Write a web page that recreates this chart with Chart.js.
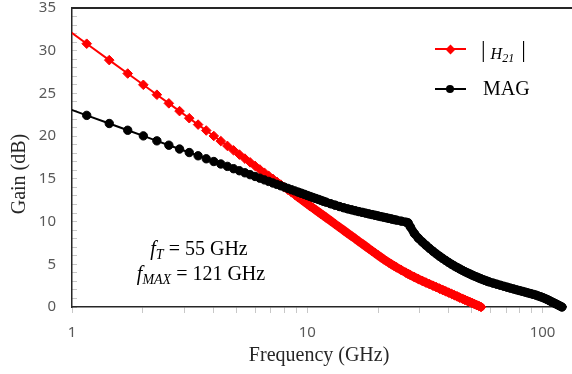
<!DOCTYPE html>
<html><head><meta charset="utf-8">
<script src="https://cdn.jsdelivr.net/npm/chart.js@4/dist/chart.umd.min.js"></script>
<style>
html,body{margin:0;padding:0;background:#fff;}
#wrap{position:relative;width:572px;height:374px;overflow:hidden;background:#fff;}
#c{position:absolute;left:0;top:0;width:572px;height:374px;}
.t{position:absolute;white-space:nowrap;font-family:"Liberation Serif","Times New Roman",serif;color:#000;}
.i{font-style:italic;}
#topline{position:absolute;left:71px;top:7px;width:501px;height:2px;background:#262626;}
</style></head><body>
<div id="wrap">
<canvas id="c" width="572" height="374"></canvas>
<div id="topline"></div>
<div class="t" id="ytitle" style="left:-42px;top:161.5px;width:120px;height:24px;line-height:24px;font-size:20px;text-align:center;color:#262626;transform:rotate(-90deg);">Gain (dB)</div>
<div style="position:absolute;left:435px;top:48px;width:31px;height:2px;background:#ff0000;"></div>
<div style="position:absolute;left:446.5px;top:45.5px;width:7px;height:7px;background:#ff0000;transform:rotate(45deg);"></div>
<div class="t" style="left:481px;top:37px;font-size:23px;line-height:26px;">|<span class="i" style="font-size:16px;position:relative;top:2px;margin-left:5px;">H</span><span class="i" style="font-size:12px;position:relative;top:4.5px;">21</span><span style="margin-left:7px;">|</span></div>
<div style="position:absolute;left:435px;top:88px;width:31px;height:2px;background:#000;"></div>
<div style="position:absolute;left:446px;top:85px;width:8px;height:8px;border-radius:50%;background:#000;"></div>
<div class="t" style="left:483px;top:76.25px;font-size:20px;line-height:24px;">MAG</div>
<div class="t" style="left:99px;top:236.25px;width:200px;text-align:center;font-size:20px;line-height:24px;"><span class="i">f</span><span class="i" style="font-size:14px;position:relative;top:4px;">T</span> = 55 GHz</div>
<div class="t" style="left:101px;top:261.25px;width:200px;text-align:center;font-size:20px;line-height:24px;"><span class="i">f</span><span class="i" style="font-size:14px;position:relative;top:3.5px;">MAX</span> = 121 GHz</div>
</div>
<script>
const freq = [0.87,1.155,1.44,1.725,2.01,2.295,2.58,2.865,3.15,3.435,3.72,4.005,4.29,4.575,4.86,5.145,5.43,5.715,6.0,6.285,6.57,6.855,7.14,7.425,7.71,7.995,8.28,8.565,8.85,9.135,9.42,9.705,9.99,10.275,10.56,10.845,11.13,11.415,11.7,11.985,
12.56,13.13,13.70,14.27,14.84,15.41,15.98,16.55,17.12,17.69,18.26,18.83,19.40,19.97,20.54,21.11,21.68,22.25,22.82,23.39,23.96,
25.10,26.24,26.81,27.38,28.52,29.66,30.80,31.94,33.08,34.22,35.36,36.50,37.64,38.78,39.92,41.06,42.20,43.34,44.48,45.62,46.76,47.90,49.04,50.18,51.32,52.46,53.60,54.74,
55.88,57.02,58.16,59.30,
61.58,63.86,66.14,68.42,70.70,72.98,75.26,77.54,79.82,82.10,84.38,86.66,88.94,91.22,93.50,95.78,98.06,100.34,102.62,104.90,107.18,109.46,111.74,114.02,116.30,118.58,120.86];

const h21 = [33.28,30.82,28.90,27.33,26.01,24.85,23.84,22.93,22.10,21.35,20.66,20.02,19.42,18.86,18.34,17.84,17.37,16.93,16.51,16.10,15.72,15.35,15.00,14.66,14.33,14.01,13.71,13.42,13.13,12.86,12.59,12.33,12.08,11.83,11.60,11.36,11.14,10.92,10.71,10.50,
10.09,9.70,9.34,8.98,8.64,8.31,8.00,7.69,7.40,7.12,6.84,6.57,6.31,6.06,5.82,5.59,5.38,5.18,4.99,4.81,4.64,
4.32,4.02,3.88,3.75,3.50,3.27,3.06,2.86,2.67,2.49,2.32,2.15,1.99,1.83,1.68,1.53,1.38,1.24,1.10,0.97,0.84,0.71,0.59,0.47,0.35,0.23,0.12,0.00];

const mag = [23.66,22.43,21.48,20.69,20.03,19.45,18.94,18.49,18.08,17.70,17.35,17.03,16.74,16.46,16.19,15.95,15.71,15.49,15.28,15.08,14.88,14.70,14.52,14.35,14.19,14.03,13.88,13.73,13.59,13.45,13.32,13.19,13.06,12.94,12.82,12.71,12.60,12.49,12.38,12.28,
12.09,11.92,11.76,11.62,11.49,11.38,11.27,11.17,11.08,10.99,10.90,10.82,10.74,10.66,10.58,10.51,10.44,10.37,10.30,10.23,10.17,
10.05,9.93,9.86,9.40,8.60,8.05,7.62,7.22,6.86,6.52,6.22,5.94,5.68,5.44,5.21,5.00,4.80,4.62,4.45,4.29,4.14,4.00,3.87,3.74,3.62,3.51,3.40,3.30,
3.20,3.11,3.02,2.94,
2.80,2.67,2.55,2.43,2.32,2.21,2.11,2.01,1.92,1.83,1.74,1.65,1.57,1.48,1.40,1.30,1.20,1.10,0.98,0.86,0.73,0.60,0.48,0.36,0.24,0.12,0.00];

const xTicks = [1,2,3,4,5,6,7,8,9,10,20,30,40,50,60,70,80,90,100];
const xTickLabels = ['1','10','100'];
const yTicks = [0,1,2,3,4,5,6,7,8,9,10,11,12,13,14,15,16,17,18,19,20,21,22,23,24,25,26,27,28,29,30,31,32,33,34,35];
const yTickLabels = ['0','5','10','15','20','25','30','35'];

const serif = "'Liberation Serif','Times New Roman',serif";
const sans = "'Noto Sans','Open Sans',sans-serif";
const axisColor = '#262626';
const tickColor = '#c8c8c8';
const labelColor = '#595959';
const clipArea = {left:0, top:10, right:10, bottom:6};
const denseFrom = 9;
const yMax = 35;

const magPts = freq.slice(0, mag.length).map((f, i) => ({x: f, y: mag[i]}));
const h21Pts = freq.slice(0, h21.length).map((f, i) => ({x: f, y: h21[i]}));

function markerSet(label, pts, color, style, r, order) {
  return {label, data: pts, order, showLine: true, borderColor: color, backgroundColor: color,
    borderWidth: 2, pointStyle: style, pointRadius: r, pointBorderWidth: 1, pointHoverRadius: r, clip: clipArea};
}
function bandSet(label, pts, color, order) {
  return {label, data: pts.filter(p => p.x >= denseFrom), order, showLine: true, borderColor: color,
    backgroundColor: color, borderWidth: 8.5, borderCapStyle: 'round', borderJoinStyle: 'round',
    pointRadius: 0, pointHoverRadius: 0, clip: clipArea};
}

const chart = new Chart(document.getElementById('c'), {
  type: 'scatter',
  data: {
    datasets: [
      markerSet('MAG', magPts, '#000000', 'circle', 4.2, 1),
      bandSet('MAG band', magPts, '#000000', 2),
      markerSet('|H21|', h21Pts, '#ff0000', 'rectRot', 4.8, 3),
      bandSet('|H21| band', h21Pts, '#ff0000', 4)
    ]
  },
  options: {
    responsive: false,
    animation: false,
    devicePixelRatio: 1,
    events: [],
    layout: {padding: {top: 8, left: 0, right: 0, bottom: 0}},
    plugins: {legend: {display: false}, tooltip: {enabled: false}},
    scales: {
      x: {
        type: 'logarithmic',
        position: 'bottom',
        min: 1,
        max: 126,
        afterFit: s => { s.height = 67; s.paddingLeft = 0; s.paddingRight = 0; },
        afterBuildTicks: s => { s.ticks = xTicks.map(v => ({value: v})); },
        ticks: {
          autoSkip: false, maxRotation: 0, minRotation: 0, padding: 11,
          color: labelColor, font: {family: sans, size: 15},
          callback: v => xTickLabels.includes(String(v)) ? String(v) : ''
        },
        grid: {drawOnChartArea: false, drawTicks: true, tickLength: 6, color: tickColor, lineWidth: 1},
        border: {display: true, color: axisColor, width: 1.5},
        title: {display: true, text: 'Frequency (GHz)', color: axisColor, font: {family: serif, size: 20}, padding: {top: 0, bottom: 6}}
      },
      y: {
        type: 'linear',
        min: 0,
        max: yMax,
        afterFit: s => { s.width = 72; s.paddingTop = 0; s.paddingBottom = 0; },
        afterBuildTicks: s => { s.ticks = yTicks.map(v => ({value: v})); },
        ticks: {
          autoSkip: false, padding: 21,
          color: labelColor, font: {family: sans, size: 15},
          callback: v => yTickLabels.includes(String(v)) ? String(v) : ''
        },
        grid: {
          drawOnChartArea: false, drawTicks: true, tickLength: -5,
          color: tickColor, lineWidth: 1, tickColor: tickColor, tickWidth: 1
        },
        border: {display: true, color: axisColor, width: 1.5}
      }
    }
  }
});
const tl = document.getElementById('topline');
tl.style.top = (chart.chartArea.top - 1) + 'px';
tl.style.left = (chart.chartArea.left - 1) + 'px';
tl.style.width = (572 - chart.chartArea.left + 1) + 'px';
</script>
</body></html>
